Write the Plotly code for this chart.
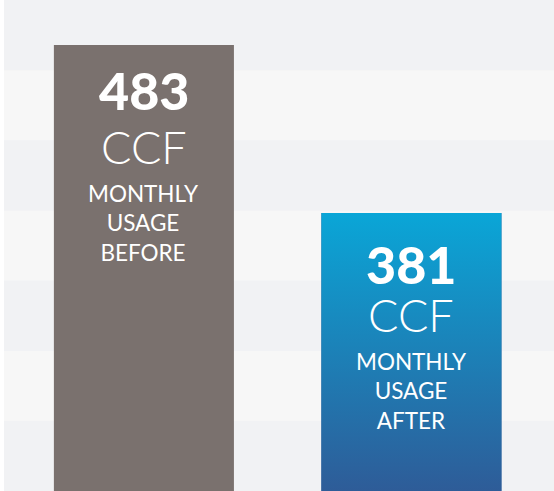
import plotly.graph_objects as go

# ---- data ----
categories = ["Before", "After"]
usage_ccf = [483, 381]
unit_label = "CCF"
sub_labels = ["MONTHLY<br>USAGE<br>BEFORE", "MONTHLY<br>USAGE<br>AFTER"]

# ---- style ----
GRAY = "#7a716e"
BLUE_TOP = "#0aa6d7"
BLUE_BOTTOM = "#2e5c98"
STRIPE_DARK = "#f1f2f4"
STRIPE_LIGHT = "#f7f7f7"
Y_RANGE = [212.2, 510.3]
X_RANGE = [-0.523, 1.533]
BAR_W = 0.673
FONT = "Lato"

xs = list(range(len(categories)))

fig = go.Figure()

# solid bars
fig.add_trace(go.Bar(
    x=xs, y=usage_ccf, width=BAR_W,
    marker=dict(color=[GRAY, BLUE_BOTTOM], line=dict(width=0)),
    hoverinfo="skip", showlegend=False,
))

# gradient overlay for the "after" bar
i = 1
x0, x1 = xs[i] - BAR_W / 2, xs[i] + BAR_W / 2
fig.add_trace(go.Scatter(
    x=[x0, x1, x1, x0, x0],
    y=[Y_RANGE[0], Y_RANGE[0], usage_ccf[i], usage_ccf[i], Y_RANGE[0]],
    mode="lines", line=dict(width=0), fill="toself",
    fillgradient=dict(type="vertical",
                      colorscale=[[0, BLUE_BOTTOM], [1, BLUE_TOP]],
                      start=Y_RANGE[0], stop=usage_ccf[i]),
    hoverinfo="skip", showlegend=False,
))

# background stripes (7 bands, light ones at 1,3,5 from bottom)
shapes = []
for k in range(7):
    shapes.append(dict(type="rect", xref="paper", yref="paper",
                       x0=0, x1=1, y0=k / 7, y1=(k + 1) / 7,
                       fillcolor=STRIPE_LIGHT if k % 2 else STRIPE_DARK,
                       line=dict(width=0), layer="below"))

num_offsets = [45, 51]
annotations = []
for idx, (v, sub) in enumerate(zip(usage_ccf, sub_labels)):
    annotations.append(dict(x=xs[idx], y=v, text=str(v), showarrow=False,
                            yanchor="middle", yshift=-num_offsets[idx], height=44,
                            font=dict(family="Lato Black, Lato", size=52,
                                      color="white", weight=900)))
    annotations.append(dict(x=xs[idx], y=v, text=unit_label, showarrow=False,
                            yanchor="middle", yshift=-102, height=40,
                            font=dict(family=FONT, size=45, color="white", weight=300)))
    annotations.append(dict(x=xs[idx], y=v, text=sub, showarrow=False,
                            yanchor="middle", yshift=-178,
                            font=dict(family=FONT, size=22.5, color="white", weight=400)))

fig.update_layout(
    width=554, height=491,
    margin=dict(l=4, r=0, t=0, b=0),
    paper_bgcolor="white", plot_bgcolor=STRIPE_DARK,
    xaxis=dict(range=X_RANGE, visible=False, fixedrange=True),
    yaxis=dict(range=Y_RANGE, visible=False, fixedrange=True),
    shapes=shapes, annotations=annotations,
    showlegend=False,
)

fig.write_html("out.html",
               config={"displayModeBar": False},
               post_script="document.body.style.margin='0';document.body.style.overflow='hidden';")
